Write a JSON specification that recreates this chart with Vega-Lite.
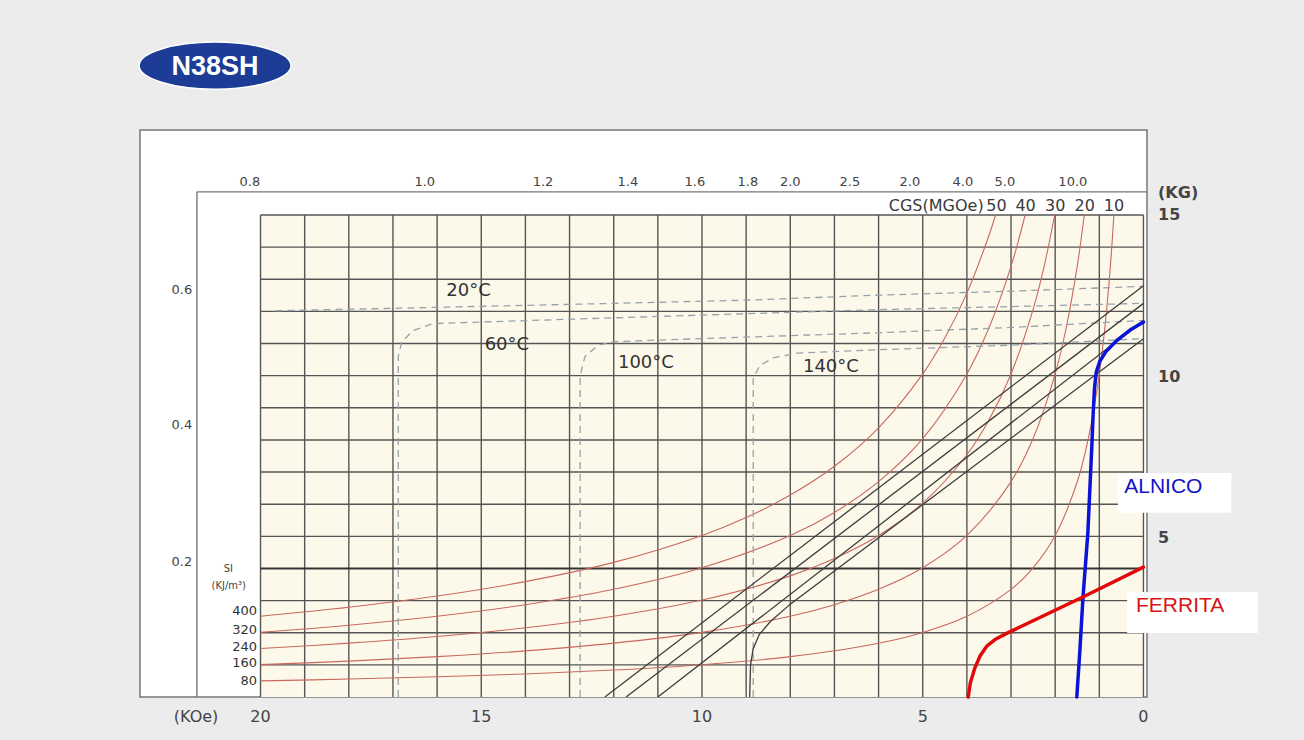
{
  "$schema": "https://vega.github.io/schema/vega-lite/v6.json",
  "width": 1007,
  "height": 567,
  "autosize": {"type": "none"},
  "padding": {"left": 140, "top": 130, "right": 157, "bottom": 43},
  "background": "#ececec",
  "config": {
    "view": {"fill": "#ffffff", "stroke": "#777777", "strokeWidth": 1.5},
    "text": {"font": "DejaVu Sans", "color": "#3a3a3a"}
  },
  "datasets": {
    "cream": [{"h": 0, "h2": 20, "b": 0, "b2": 15}],
    "grid": [
      {"h": 0, "h2": 0, "b": 0, "b2": 15}, {"h": 1, "h2": 1, "b": 0, "b2": 15}, {"h": 2, "h2": 2, "b": 0, "b2": 15},
      {"h": 3, "h2": 3, "b": 0, "b2": 15}, {"h": 4, "h2": 4, "b": 0, "b2": 15}, {"h": 5, "h2": 5, "b": 0, "b2": 15},
      {"h": 6, "h2": 6, "b": 0, "b2": 15}, {"h": 7, "h2": 7, "b": 0, "b2": 15}, {"h": 8, "h2": 8, "b": 0, "b2": 15},
      {"h": 9, "h2": 9, "b": 0, "b2": 15}, {"h": 10, "h2": 10, "b": 0, "b2": 15}, {"h": 11, "h2": 11, "b": 0, "b2": 15},
      {"h": 12, "h2": 12, "b": 0, "b2": 15}, {"h": 13, "h2": 13, "b": 0, "b2": 15}, {"h": 14, "h2": 14, "b": 0, "b2": 15},
      {"h": 15, "h2": 15, "b": 0, "b2": 15}, {"h": 16, "h2": 16, "b": 0, "b2": 15}, {"h": 17, "h2": 17, "b": 0, "b2": 15},
      {"h": 18, "h2": 18, "b": 0, "b2": 15}, {"h": 19, "h2": 19, "b": 0, "b2": 15}, {"h": 20, "h2": 20, "b": 0, "b2": 15},
      {"h": 0, "h2": 20, "b": 1, "b2": 1}, {"h": 0, "h2": 20, "b": 2, "b2": 2}, {"h": 0, "h2": 20, "b": 3, "b2": 3},
      {"h": 0, "h2": 20, "b": 5, "b2": 5}, {"h": 0, "h2": 20, "b": 6, "b2": 6}, {"h": 0, "h2": 20, "b": 7, "b2": 7},
      {"h": 0, "h2": 20, "b": 8, "b2": 8}, {"h": 0, "h2": 20, "b": 9, "b2": 9}, {"h": 0, "h2": 20, "b": 10, "b2": 10},
      {"h": 0, "h2": 20, "b": 11, "b2": 11}, {"h": 0, "h2": 20, "b": 12, "b2": 12}, {"h": 0, "h2": 20, "b": 13, "b2": 13},
      {"h": 0, "h2": 20, "b": 14, "b2": 14}, {"h": 0, "h2": 20, "b": 15, "b2": 15}
    ],
    "thick": [{"h": 0, "h2": 20, "b": 4, "b2": 4}],
    "frame": [
      {"h": 21.44, "h2": 21.44, "b": 0, "b2": 15.72},
      {"h": 21.44, "h2": -0.08, "b": 15.72, "b2": 15.72}
    ],
    "energy": [
      {"e": 50, "h": 3.351, "b": 15}, {"e": 50, "h": 3.5, "b": 14.363}, {"e": 50, "h": 4, "b": 12.568}, {"e": 50, "h": 4.5, "b": 11.171},
      {"e": 50, "h": 5, "b": 10.054}, {"e": 50, "h": 6, "b": 8.378}, {"e": 50, "h": 7, "b": 7.181}, {"e": 50, "h": 8, "b": 6.284},
      {"e": 50, "h": 9, "b": 5.586}, {"e": 50, "h": 10, "b": 5.027}, {"e": 50, "h": 12, "b": 4.189}, {"e": 50, "h": 14, "b": 3.591},
      {"e": 50, "h": 16, "b": 3.142}, {"e": 50, "h": 18, "b": 2.793}, {"e": 50, "h": 20, "b": 2.514},
      {"e": 40, "h": 2.681, "b": 15}, {"e": 40, "h": 3, "b": 13.403}, {"e": 40, "h": 3.5, "b": 11.489}, {"e": 40, "h": 4, "b": 10.053},
      {"e": 40, "h": 5, "b": 8.042}, {"e": 40, "h": 6, "b": 6.702}, {"e": 40, "h": 7, "b": 5.744}, {"e": 40, "h": 8, "b": 5.026},
      {"e": 40, "h": 10, "b": 4.021}, {"e": 40, "h": 12, "b": 3.351}, {"e": 40, "h": 14, "b": 2.872}, {"e": 40, "h": 16, "b": 2.513},
      {"e": 40, "h": 18, "b": 2.234}, {"e": 40, "h": 20, "b": 2.011},
      {"e": 30, "h": 2.011, "b": 15}, {"e": 30, "h": 2.25, "b": 13.404}, {"e": 30, "h": 2.5, "b": 12.064}, {"e": 30, "h": 3, "b": 10.053},
      {"e": 30, "h": 3.5, "b": 8.617}, {"e": 30, "h": 4, "b": 7.54}, {"e": 30, "h": 5, "b": 6.032}, {"e": 30, "h": 6, "b": 5.027},
      {"e": 30, "h": 7, "b": 4.309}, {"e": 30, "h": 8, "b": 3.77}, {"e": 30, "h": 10, "b": 3.016}, {"e": 30, "h": 12, "b": 2.513},
      {"e": 30, "h": 14, "b": 2.154}, {"e": 30, "h": 16, "b": 1.885}, {"e": 30, "h": 18, "b": 1.676}, {"e": 30, "h": 20, "b": 1.508},
      {"e": 20, "h": 1.341, "b": 15}, {"e": 20, "h": 1.5, "b": 13.407}, {"e": 20, "h": 1.75, "b": 11.491}, {"e": 20, "h": 2, "b": 10.055},
      {"e": 20, "h": 2.5, "b": 8.044}, {"e": 20, "h": 3, "b": 6.703}, {"e": 20, "h": 4, "b": 5.028}, {"e": 20, "h": 5, "b": 4.022},
      {"e": 20, "h": 6, "b": 3.352}, {"e": 20, "h": 7, "b": 2.873}, {"e": 20, "h": 8, "b": 2.514}, {"e": 20, "h": 10, "b": 2.011},
      {"e": 20, "h": 12, "b": 1.676}, {"e": 20, "h": 14, "b": 1.436}, {"e": 20, "h": 16, "b": 1.257}, {"e": 20, "h": 18, "b": 1.117},
      {"e": 20, "h": 20, "b": 1.006},
      {"e": 10, "h": 0.67, "b": 15}, {"e": 10, "h": 0.75, "b": 13.4}, {"e": 10, "h": 0.875, "b": 11.486}, {"e": 10, "h": 1, "b": 10.05},
      {"e": 10, "h": 1.25, "b": 8.04}, {"e": 10, "h": 1.5, "b": 6.7}, {"e": 10, "h": 2, "b": 5.025}, {"e": 10, "h": 2.5, "b": 4.02},
      {"e": 10, "h": 3, "b": 3.35}, {"e": 10, "h": 4, "b": 2.513}, {"e": 10, "h": 5, "b": 2.01}, {"e": 10, "h": 6, "b": 1.675},
      {"e": 10, "h": 8, "b": 1.256}, {"e": 10, "h": 10, "b": 1.005}, {"e": 10, "h": 12, "b": 0.838}, {"e": 10, "h": 14, "b": 0.718},
      {"e": 10, "h": 16, "b": 0.628}, {"e": 10, "h": 18, "b": 0.558}, {"e": 10, "h": 20, "b": 0.503}
    ],
    "intrinsic": [
      {"t": "20", "h": 19.66, "b": 12.02}, {"t": "20", "h": 16.84, "b": 12.1}, {"t": "20", "h": 12, "b": 12.25}, {"t": "20", "h": 9, "b": 12.35},
      {"t": "20", "h": 6.13, "b": 12.5}, {"t": "20", "h": 3, "b": 12.63}, {"t": "20", "h": 0, "b": 12.78},
      {"t": "60", "h": 16.88, "b": 0}, {"t": "60", "h": 16.88, "b": 10.6}, {"t": "60", "h": 16.8, "b": 11.05}, {"t": "60", "h": 16.55, "b": 11.4},
      {"t": "60", "h": 16.1, "b": 11.62}, {"t": "60", "h": 12, "b": 11.8}, {"t": "60", "h": 6.13, "b": 12.05}, {"t": "60", "h": 3, "b": 12.15},
      {"t": "60", "h": 0, "b": 12.25},
      {"t": "100", "h": 12.76, "b": 0}, {"t": "100", "h": 12.76, "b": 10.0}, {"t": "100", "h": 12.65, "b": 10.6}, {"t": "100", "h": 12.35, "b": 10.95},
      {"t": "100", "h": 12.0, "b": 11.06}, {"t": "100", "h": 9, "b": 11.2}, {"t": "100", "h": 6.13, "b": 11.33}, {"t": "100", "h": 3, "b": 11.5},
      {"t": "100", "h": 0, "b": 11.72},
      {"t": "140", "h": 8.84, "b": 0}, {"t": "140", "h": 8.84, "b": 9.9}, {"t": "140", "h": 8.7, "b": 10.3}, {"t": "140", "h": 8.4, "b": 10.55},
      {"t": "140", "h": 7.85, "b": 10.7}, {"t": "140", "h": 6.13, "b": 10.8}, {"t": "140", "h": 3, "b": 10.95}, {"t": "140", "h": 0, "b": 11.15}
    ],
    "normal": [
      {"t": "20", "h": 0, "b": 12.8}, {"t": "20", "h": 12.2, "b": 0},
      {"t": "60", "h": 0, "b": 12.25}, {"t": "60", "h": 11.72, "b": 0},
      {"t": "100", "h": 0, "b": 11.72}, {"t": "100", "h": 11.0, "b": 0},
      {"t": "140", "h": 0, "b": 11.15}, {"t": "140", "h": 8.0, "b": 2.89}, {"t": "140", "h": 8.45, "b": 2.35}, {"t": "140", "h": 8.7, "b": 1.95},
      {"t": "140", "h": 8.84, "b": 1.5}, {"t": "140", "h": 8.9, "b": 1.0}, {"t": "140", "h": 8.92, "b": 0}
    ],
    "alnico": [
      {"h": 0, "b": 11.67}, {"h": 0.3, "b": 11.42}, {"h": 0.6, "b": 11.1}, {"h": 0.85, "b": 10.75}, {"h": 0.99, "b": 10.45},
      {"h": 1.07, "b": 10.1}, {"h": 1.11, "b": 9.6}, {"h": 1.14, "b": 8.8}, {"h": 1.17, "b": 7.8}, {"h": 1.26, "b": 5.1},
      {"h": 1.37, "b": 3.1}, {"h": 1.44, "b": 1.46}, {"h": 1.51, "b": 0}
    ],
    "ferrite": [
      {"h": 0, "b": 4.04}, {"h": 1.36, "b": 3.12}, {"h": 3.1, "b": 1.98}, {"h": 3.35, "b": 1.8}, {"h": 3.55, "b": 1.58},
      {"h": 3.7, "b": 1.28}, {"h": 3.82, "b": 0.9}, {"h": 3.92, "b": 0.45}, {"h": 3.97, "b": 0}
    ],
    "boxes": [
      {"h": 0.58, "h2": -1.99, "b": 6.97, "b2": 5.73},
      {"h": 0.37, "h2": -2.59, "b": 3.27, "b2": 1.99}
    ],
    "templabels": [
      {"label": "20°C", "h": 15.29, "b": 12.64},
      {"label": "60°C", "h": 14.42, "b": 10.96},
      {"label": "100°C", "h": 11.27, "b": 10.4},
      {"label": "140°C", "h": 7.08, "b": 10.27}
    ],
    "toplabels": [
      {"label": "0.8", "h": 20.24, "b": 16.03}, {"label": "1.0", "h": 16.28, "b": 16.03}, {"label": "1.2", "h": 13.6, "b": 16.03},
      {"label": "1.4", "h": 11.68, "b": 16.03}, {"label": "1.6", "h": 10.16, "b": 16.03}, {"label": "1.8", "h": 8.96, "b": 16.03},
      {"label": "2.0", "h": 8.0, "b": 16.03}, {"label": "2.5", "h": 6.65, "b": 16.03}, {"label": "2.0", "h": 5.29, "b": 16.03},
      {"label": "4.0", "h": 4.09, "b": 16.03}, {"label": "5.0", "h": 3.14, "b": 16.03}, {"label": "10.0", "h": 1.6, "b": 16.03},
      {"label": "0.6", "h": 21.78, "b": 12.67}, {"label": "0.4", "h": 21.78, "b": 8.47}, {"label": "0.2", "h": 21.78, "b": 4.2}
    ],
    "cgs": [{"label": "CGS(MGOe)", "h": 3.62, "b": 15.28}],
    "cgsvals": [
      {"label": "50", "h": 3.33, "b": 15.28}, {"label": "40", "h": 2.67, "b": 15.28}, {"label": "30", "h": 2.0, "b": 15.28},
      {"label": "20", "h": 1.33, "b": 15.28}, {"label": "10", "h": 0.67, "b": 15.28}
    ],
    "rightlabels": [
      {"label": "(KG)", "h": -0.33, "b": 15.69}, {"label": "15", "h": -0.33, "b": 15.0},
      {"label": "10", "h": -0.33, "b": 9.96}, {"label": "5", "h": -0.33, "b": 4.95}
    ],
    "bottomlabels": [
      {"label": "(KOe)", "h": 21.46, "b": -0.62}, {"label": "20", "h": 20, "b": -0.62}, {"label": "15", "h": 15, "b": -0.62},
      {"label": "10", "h": 10, "b": -0.62}, {"label": "5", "h": 5, "b": -0.62}, {"label": "0", "h": 0, "b": -0.62}
    ],
    "silabels": [
      {"label": "400", "h": 20.08, "b": 2.68}, {"label": "320", "h": 20.08, "b": 2.08}, {"label": "240", "h": 20.08, "b": 1.56},
      {"label": "160", "h": 20.08, "b": 1.06}, {"label": "80", "h": 20.08, "b": 0.5}
    ],
    "sihead": [
      {"label": "SI", "h": 20.73, "b": 3.98},
      {"label": "(KJ/m³)", "h": 20.72, "b": 3.45}
    ],
    "alnicolabel": [{"label": "ALNICO", "h": -0.45, "b": 6.54}],
    "ferritelabel": [{"label": "FERRITA", "h": -0.83, "b": 2.83}],
    "logo": [{"label": "N38SH", "h": 21.03, "b": 19.65}]
  },
  "encoding": {
    "x": {"field": "h", "type": "quantitative", "scale": {"domain": [-0.08, 22.73], "reverse": true, "nice": false, "zero": false}, "axis": null},
    "y": {"field": "b", "type": "quantitative", "scale": {"domain": [0, 17.645], "nice": false, "zero": false}, "axis": null}
  },
  "layer": [
    {
      "data": {"name": "cream"},
      "mark": {"type": "rect", "fill": "#fdf9ea"},
      "encoding": {"x2": {"field": "h2"}, "y2": {"field": "b2"}}
    },
    {
      "data": {"name": "grid"},
      "mark": {"type": "rule", "color": "#555555", "strokeWidth": 1.4},
      "encoding": {"x2": {"field": "h2"}, "y2": {"field": "b2"}}
    },
    {
      "data": {"name": "thick"},
      "mark": {"type": "rule", "color": "#333333", "strokeWidth": 2},
      "encoding": {"x2": {"field": "h2"}, "y2": {"field": "b2"}}
    },
    {
      "data": {"name": "frame"},
      "mark": {"type": "rule", "color": "#777777", "strokeWidth": 1.4},
      "encoding": {"x2": {"field": "h2"}, "y2": {"field": "b2"}}
    },
    {
      "data": {"name": "energy"},
      "mark": {"type": "line", "color": "#c8685e", "strokeWidth": 1.1, "interpolate": "catmull-rom"},
      "encoding": {"detail": {"field": "e", "type": "nominal"}}
    },
    {
      "data": {"name": "intrinsic"},
      "mark": {"type": "line", "color": "#97a1ab", "strokeWidth": 1.3, "strokeDash": [7, 5]},
      "encoding": {"detail": {"field": "t", "type": "nominal"}, "order": {"value": null}}
    },
    {
      "data": {"name": "normal"},
      "mark": {"type": "line", "color": "#3c3c3c", "strokeWidth": 1.3},
      "encoding": {"detail": {"field": "t", "type": "nominal"}, "order": {"value": null}}
    },
    {
      "data": {"name": "alnico"},
      "mark": {"type": "line", "color": "#0a14d8", "strokeWidth": 3.5, "strokeCap": "round"},
      "encoding": {"order": {"value": null}}
    },
    {
      "data": {"name": "ferrite"},
      "mark": {"type": "line", "color": "#e00a0a", "strokeWidth": 3.5, "strokeCap": "round"},
      "encoding": {"order": {"value": null}}
    },
    {
      "data": {"name": "boxes"},
      "mark": {"type": "rect", "fill": "#ffffff"},
      "encoding": {"x2": {"field": "h2"}, "y2": {"field": "b2"}}
    },
    {
      "data": {"name": "templabels"},
      "mark": {"type": "text", "fontSize": 18, "align": "center", "baseline": "middle", "color": "#333333"},
      "encoding": {"text": {"field": "label"}}
    },
    {
      "data": {"name": "toplabels"},
      "mark": {"type": "text", "fontSize": 13, "align": "center", "baseline": "middle", "color": "#444444"},
      "encoding": {"text": {"field": "label"}}
    },
    {
      "data": {"name": "cgs"},
      "mark": {"type": "text", "fontSize": 16, "align": "right", "baseline": "middle", "color": "#3a3a3a"},
      "encoding": {"text": {"field": "label"}}
    },
    {
      "data": {"name": "cgsvals"},
      "mark": {"type": "text", "fontSize": 16, "align": "center", "baseline": "middle", "color": "#3a3a3a"},
      "encoding": {"text": {"field": "label"}}
    },
    {
      "data": {"name": "rightlabels"},
      "mark": {"type": "text", "fontSize": 16, "align": "left", "baseline": "middle", "color": "#444444", "fontWeight": "bold"},
      "encoding": {"text": {"field": "label"}}
    },
    {
      "data": {"name": "bottomlabels"},
      "mark": {"type": "text", "fontSize": 16, "align": "center", "baseline": "middle", "color": "#444444"},
      "encoding": {"text": {"field": "label"}}
    },
    {
      "data": {"name": "silabels"},
      "mark": {"type": "text", "fontSize": 13, "align": "right", "baseline": "middle", "color": "#333333"},
      "encoding": {"text": {"field": "label"}}
    },
    {
      "data": {"name": "sihead"},
      "mark": {"type": "text", "fontSize": 10, "align": "center", "baseline": "middle", "color": "#444444"},
      "encoding": {"text": {"field": "label"}}
    },
    {
      "data": {"name": "alnicolabel"},
      "mark": {"type": "text", "font": "Liberation Sans", "fontSize": 21, "align": "center", "baseline": "middle", "color": "#1212c8"},
      "encoding": {"text": {"field": "label"}}
    },
    {
      "data": {"name": "ferritelabel"},
      "mark": {"type": "text", "font": "Liberation Sans", "fontSize": 21, "align": "center", "baseline": "middle", "color": "#d81414"},
      "encoding": {"text": {"field": "label"}}
    },
    {
      "data": {"name": "logo"},
      "mark": {"type": "point", "shape": "M-1,0A1,0.31 0 1,0 1,0A1,0.31 0 1,0 -1,0Z", "size": 23104, "filled": true, "fill": "#1d3c96", "stroke": "#ffffff", "strokeWidth": 1.5, "opacity": 1}
    },
    {
      "data": {"name": "logo"},
      "mark": {"type": "text", "font": "Liberation Sans", "fontWeight": "bold", "fontSize": 27, "align": "center", "baseline": "middle", "color": "#ffffff", "dy": 1},
      "encoding": {"text": {"field": "label"}}
    }
  ]
}
